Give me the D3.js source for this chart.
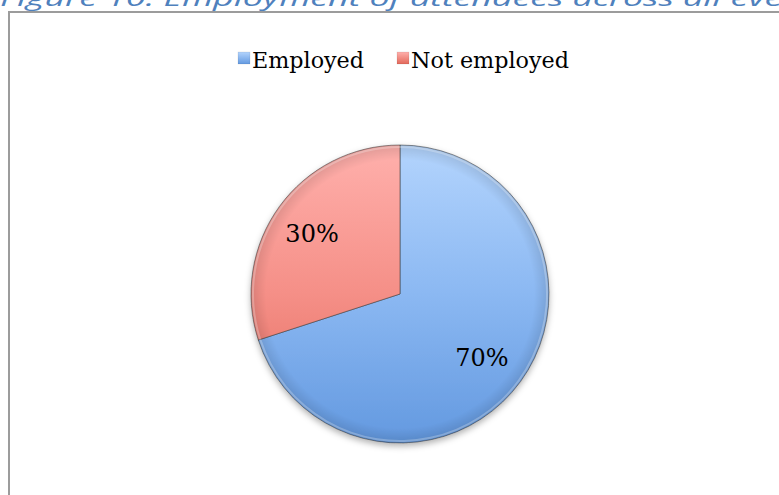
<!DOCTYPE html>
<html><head><meta charset="utf-8">
<script src="https://cdn.jsdelivr.net/npm/d3@7/dist/d3.min.js"></script>
<style>html,body{margin:0;padding:0;background:#fff;overflow:hidden}</style>
</head><body>
<svg id="c" width="779" height="495"></svg>
<script>
const categories = ["Employed", "Not employed"];
const values = [70, 30];
const labels = ["70%", "30%"];
const title = "Figure 10: Employment of attendees across all events";

const svg = d3.select("#c");
const defs = svg.append("defs");
const W = 779, H = 495;
const cx = 400, cy = 294, r = 149;

const colorTop = {"Employed": "#b3d4fd", "Not employed": "#ffb0ac"};
const colorMid = {"Employed": "#8bb8f2", "Not employed": "#f58f87"};
const colorBot = {"Employed": "#6399e0", "Not employed": "#e2685a"};

categories.forEach((c, i) => {
  const g = defs.append("linearGradient").attr("id", "g" + i)
    .attr("gradientUnits", "userSpaceOnUse")
    .attr("x1", 0).attr("y1", -r).attr("x2", 0).attr("y2", r);
  g.append("stop").attr("offset", "0%").attr("stop-color", colorTop[c]);
  g.append("stop").attr("offset", "50%").attr("stop-color", colorMid[c]);
  g.append("stop").attr("offset", "100%").attr("stop-color", colorBot[c]);
  const lg = defs.append("linearGradient").attr("id", "lg" + i)
    .attr("x1", 0).attr("y1", 0).attr("x2", 0).attr("y2", 1);
  lg.append("stop").attr("offset", "0%").attr("stop-color", colorTop[c]);
  lg.append("stop").attr("offset", "100%").attr("stop-color", colorBot[c]);
});
const rim = defs.append("radialGradient").attr("id", "rim")
  .attr("gradientUnits", "userSpaceOnUse").attr("cx", 0).attr("cy", 0).attr("r", r);
rim.append("stop").attr("offset", "0%").attr("stop-color", "#000").attr("stop-opacity", 0);
rim.append("stop").attr("offset", "90%").attr("stop-color", "#000").attr("stop-opacity", 0);
rim.append("stop").attr("offset", "100%").attr("stop-color", "#000").attr("stop-opacity", 0.12);

const f = defs.append("filter").attr("id", "sh").attr("x", "-20%").attr("y", "-20%").attr("width", "140%").attr("height", "140%");
f.append("feDropShadow").attr("dx", 0).attr("dy", 3).attr("stdDeviation", 3)
  .attr("flood-color", "#000").attr("flood-opacity", 0.3);

// Title (cut off at the top edge, as in the reference)
svg.append("text").attr("x", 0).attr("y", 5.5)
  .attr("font-family", "'Open Sans', 'Liberation Sans', sans-serif")
  .attr("font-style", "italic").attr("font-size", 22)
  .attr("fill", "#4f81bd")
  .attr("textLength", 830).attr("lengthAdjust", "spacingAndGlyphs")
  .text(title);

// Frame
svg.append("rect").attr("x", 9).attr("y", 12).attr("width", W + 20).attr("height", H + 20)
  .attr("fill", "none").attr("stroke", "#9c9c9c").attr("stroke-width", 2);

// Legend
const legendX = [238, 397];
const legendTL = [112, 158];
const leg = svg.append("g");
categories.forEach((c, i) => {
  leg.append("rect").attr("x", legendX[i]).attr("y", 52).attr("width", 12).attr("height", 12)
    .attr("fill", "url(#lg" + i + ")").attr("stroke", "rgba(0,0,0,0.15)").attr("stroke-width", 0.5);
  leg.append("text").attr("x", legendX[i] + 14).attr("y", 68)
    .attr("font-family", "'DejaVu Serif', serif").attr("font-size", 23)
    .attr("fill", "#000")
    .attr("textLength", legendTL[i]).attr("lengthAdjust", "spacingAndGlyphs")
    .text(c);
});

// Pie
const pie = d3.pie().sort(null).value(d => d)(values);
const arc = d3.arc().innerRadius(0).outerRadius(r);
const labelArc = d3.arc().innerRadius(r * 0.705).outerRadius(r * 0.705);
const gp = svg.append("g").attr("transform", `translate(${cx},${cy})`);
gp.append("g").attr("filter", "url(#sh)")
  .selectAll("path").data(pie).join("path")
  .attr("d", arc)
  .attr("fill", (d, i) => "url(#g" + i + ")")
  .attr("stroke", "rgba(60,60,60,0.55)").attr("stroke-width", 1);
gp.selectAll("path.rim").data(pie).join("path").attr("class", "rim")
  .attr("d", arc).attr("fill", "url(#rim)");
gp.selectAll("path.hl").data(pie).join("path").attr("class", "hl")
  .attr("d", d3.arc().innerRadius(r - 3).outerRadius(r - 1))
  .attr("fill", "rgba(255,255,255,0.25)");

gp.selectAll("text.lbl").data(pie).join("text").attr("class", "lbl")
  .attr("x", d => labelArc.centroid(d)[0] - 3)
  .attr("y", d => labelArc.centroid(d)[1] + 10)
  .attr("text-anchor", "middle")
  .attr("font-family", "'DejaVu Serif', serif").attr("font-size", 24)
  .attr("fill", "#000")
  .text((d, i) => labels[i]);
</script>
</body></html>
